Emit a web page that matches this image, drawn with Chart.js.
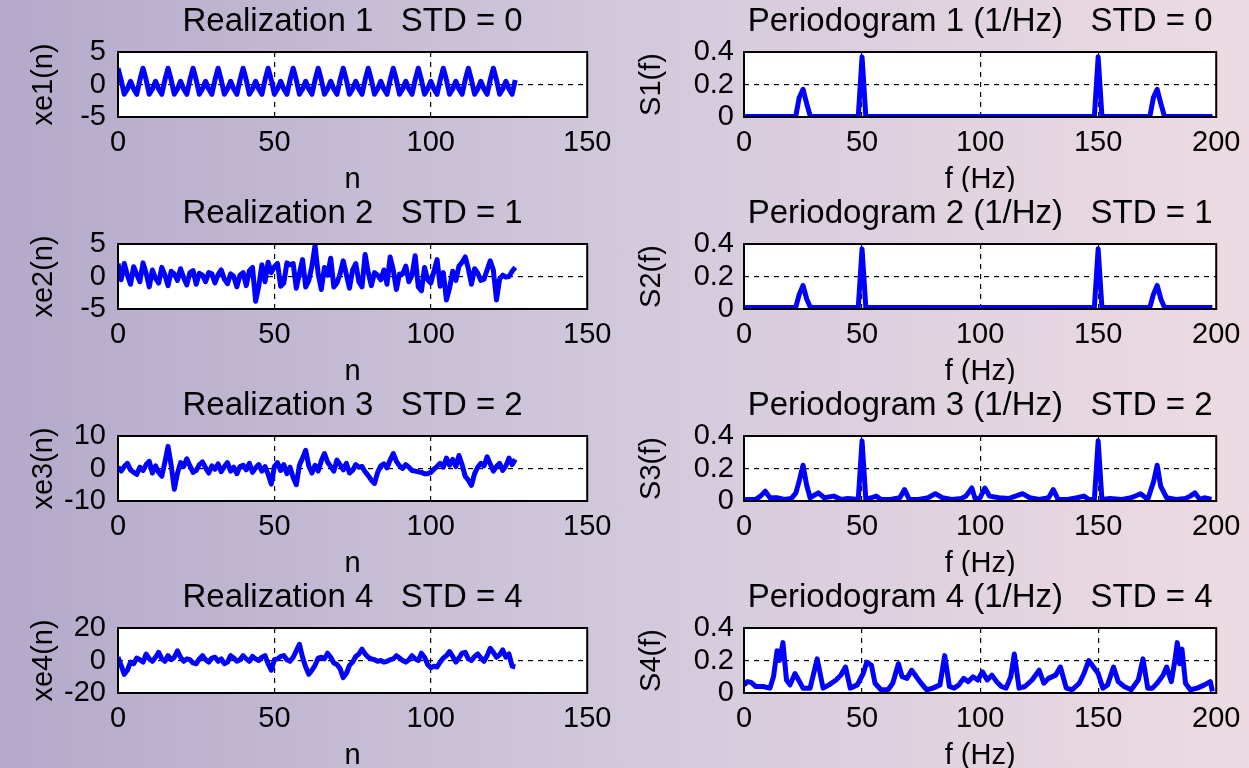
<!DOCTYPE html>
<html>
<head>
<meta charset="utf-8">
<script src="https://cdn.jsdelivr.net/npm/chart.js@4.4.0/dist/chart.umd.min.js"></script>
<style>
  html, body { margin: 0; padding: 0; }
  body {
    width: 1249px; height: 768px; overflow: hidden; position: relative;
    background: linear-gradient(to right, #b4a9ca 0%, #d3c9dc 50%, #ecdbe2 100%);
  }
  .cell { position: absolute; }
</style>
</head>
<body>
<div class="cell" style="left:0;top:0;width:620px;height:192px"><canvas id="r1"></canvas></div>
<div class="cell" style="left:620px;top:0;width:629px;height:192px"><canvas id="p1"></canvas></div>
<div class="cell" style="left:0;top:192px;width:620px;height:192px"><canvas id="r2"></canvas></div>
<div class="cell" style="left:620px;top:192px;width:629px;height:192px"><canvas id="p2"></canvas></div>
<div class="cell" style="left:0;top:384px;width:620px;height:192px"><canvas id="r3"></canvas></div>
<div class="cell" style="left:620px;top:384px;width:629px;height:192px"><canvas id="p3"></canvas></div>
<div class="cell" style="left:0;top:576px;width:620px;height:192px"><canvas id="r4"></canvas></div>
<div class="cell" style="left:620px;top:576px;width:629px;height:192px"><canvas id="p4"></canvas></div>
<script>
// realizations xe1..xe4, sample index n = 0..127
const xe1 = [
  2.5, 0.7, -1.5, -0.7, 0.5, -0.7, -1.5, 0.7,
  2.5, 0.7, -1.5, -0.7, 0.5, -0.7, -1.5, 0.7,
  2.5, 0.7, -1.5, -0.7, 0.5, -0.7, -1.5, 0.7,
  2.5, 0.7, -1.5, -0.7, 0.5, -0.7, -1.5, 0.7,
  2.5, 0.7, -1.5, -0.7, 0.5, -0.7, -1.5, 0.7,
  2.5, 0.7, -1.5, -0.7, 0.5, -0.7, -1.5, 0.7,
  2.5, 0.7, -1.5, -0.7, 0.5, -0.7, -1.5, 0.7,
  2.5, 0.7, -1.5, -0.7, 0.5, -0.7, -1.5, 0.7,
  2.5, 0.7, -1.5, -0.7, 0.5, -0.7, -1.5, 0.7,
  2.5, 0.7, -1.5, -0.7, 0.5, -0.7, -1.5, 0.7,
  2.5, 0.7, -1.5, -0.7, 0.5, -0.7, -1.5, 0.7,
  2.5, 0.7, -1.5, -0.7, 0.5, -0.7, -1.5, 0.7,
  2.5, 0.7, -1.5, -0.7, 0.5, -0.7, -1.5, 0.7,
  2.5, 0.7, -1.5, -0.7, 0.5, -0.7, -1.5, 0.7,
  2.5, 0.7, -1.5, -0.7, 0.5, -0.7, -1.5, 0.7,
  2.5, 0.7, -1.5, -0.7, 0.5, -0.7, -1.5, 0.7
];
const xe2 = [
  2.0, -0.5, 2.0, 0.2, -1.2, 1.5, 0.3, -0.8, 2.1, 0.5,
  -1.6, 1.0, -0.3, -1.0, 1.4, 0.2, -1.4, 0.8, 0.4, -0.6,
  1.2, -0.2, -1.3, 0.6, 0.9, -1.2, 0.5, 0.2, -0.8, 0.6,
  0.4, -1.0, 0.3, 1.0, -0.4, -1.1, 0.4, 0.0, -1.6, 0.2,
  0.6, -1.4, 0.9, 1.4, -3.8, -1.5, 1.8, -0.8, 2.2, 0.6,
  1.5, 2.0, -1.5, -1.0, 2.1, 1.8, 2.0, -1.8, 0.5, 2.6,
  -1.6, -0.6, 1.6, 4.8, 0.4, -2.0, 1.4, 0.2, 2.8, -1.6,
  -1.0, 0.4, 2.4, 0.3, -1.8, 1.0, 2.0, -0.8, -1.6, 3.4,
  0.6, -1.4, 0.6, 0.2, -0.5, 1.0, -1.2, 3.0, 1.0, -2.0,
  0.4, 0.4, 1.6, -0.8, 0.2, 3.2, -1.6, -2.2, 1.4, -0.5,
  -1.0, 0.8, 2.6, -1.5, 0.6, -3.6, -1.8, 0.8, -0.6, 1.6,
  2.2, 3.0, 1.2, -1.2, 1.2, 0.5, -0.6, -0.4, 1.0, 2.4,
  1.0, -3.6, -0.4, 0.2, -0.1, 0.0, 0.8, 1.4
];
const xe3 = [
  0.5, -0.8, 0.6, 1.6, -0.4, -1.2, -1.8, 0.4, -0.6, 1.2,
  2.2, -1.4, 0.8, -1.2, -2.4, 2.0, 6.8, 1.0, -6.4, -1.5,
  1.8, 0.6, 3.0, 0.8, -1.2, -0.6, 1.2, 2.0, 0.2, -1.4,
  0.8, -0.2, 1.4, -1.0, 0.6, 1.8, -0.8, 0.4, -1.6, 0.6,
  1.0, -0.4, 1.6, -1.2, 0.2, 1.2, -0.8, 0.6, -1.8, -4.8,
  0.6, 1.8, -0.6, 1.2, -1.6, 0.4, -2.8, -5.0, 1.0, 3.2,
  5.6, 0.8, -1.4, 1.0, -0.8, 2.4, 4.6, 2.0, 0.6, -0.8,
  2.6, 1.2, -0.4, 1.6, -1.4, -0.6, 1.2, 0.4, 0.6, -1.0,
  -2.2, -3.6, -4.6, -1.2, 0.8, 1.4, 0.2, 2.6, 4.6, 2.2,
  0.8, 0.0, 1.2, 0.4, -0.6, -0.8, -1.0, -1.2, -1.6, -1.6,
  -1.2, -0.2, 0.6, 1.6, 0.4, 3.2, 1.0, 2.8, 0.6, 4.0,
  1.2, -2.4, -3.6, -5.2, -1.6, 0.4, 1.6, 0.8, 3.6, 1.4,
  -0.8, 0.6, 1.6, -0.6, 0.8, 3.2, 1.2, 2.8
];
const xe4 = [
  2.0, -3.0, -8.5, -6.0, -1.0, -2.0, 1.5, 0.5, -1.0, 4.0,
  1.0, -0.5, 2.0, 5.0, 1.0, -0.5, 3.0, 0.5, 2.0, 6.0,
  2.0, -0.5, 1.0, 0.5, -1.5, -2.0, 1.0, 3.0, 0.5, -1.0,
  1.5, 2.0, -0.5, 1.0, -2.0, -1.0, 3.0, 1.5, -0.5, 0.5,
  3.0, 1.0, -0.5, 2.5, 1.0, 0.0, 2.0, 3.0, -2.0, -6.0,
  0.5, 1.0, 2.5, 3.0, 0.5, -0.5, 2.0, 6.0, 10.0, 2.0,
  -4.0, -8.5, -6.0, -3.0, 1.5, 2.0, 1.0, 4.5, 2.0, -1.5,
  -2.5, -5.0, -10.5, -8.0, -3.0, -1.0, 2.5, 4.0, 7.0, 4.0,
  2.0, 1.0, 0.5, -0.5, 0.0, -1.0, -0.5, 0.5, 1.0, 3.0,
  1.5, 0.0, -1.0, 0.5, 3.0, 1.0, 0.0, 4.5, 2.0, -2.5,
  -4.5, -3.5, -4.0, -1.0, 1.5, 3.0, 5.5, 2.5, -1.0, 1.5,
  4.5, 5.0, 1.0, 0.0, 2.5, 4.0, 1.5, -0.5, 3.0, 7.5,
  5.0, 2.0, 3.5, 6.5, 2.0, 4.0, -3.5, -4.0
];

// periodograms: frequency (Hz) and S(f) (1/Hz)
const f1 = [0, 21.9, 23.4, 25, 26.6, 28.1, 48.4, 50, 51.6, 148.4, 150, 151.6, 171.9, 173.4, 175, 176.6, 178.1, 198.4];
const s1 = [0.003, 0.003, 0.12, 0.17, 0.08, 0.003, 0.003, 0.37, 0.003, 0.003, 0.37, 0.003, 0.003, 0.12, 0.17, 0.08, 0.003, 0.003];
const f2 = [0, 21.9, 23.4, 25, 26.6, 28.1, 48.4, 50, 51.6, 148.4, 150, 151.6, 171.9, 173.4, 175, 176.6, 178.1, 198.4];
const s2 = [0.01, 0.01, 0.09, 0.145, 0.06, 0.01, 0.01, 0.37, 0.01, 0.01, 0.37, 0.01, 0.01, 0.09, 0.145, 0.06, 0.01, 0.01];
const f3 = [
  0, 5, 7, 9, 11, 14, 17, 20, 22, 23.5,
  25, 26.5, 28, 31.5, 34, 38, 41, 44, 48.4, 50,
  51.6, 54, 56, 58, 62, 66, 68, 70, 74, 78,
  81, 84, 88, 92, 94, 96.5, 98, 100, 102, 104,
  108, 112, 115, 118, 121, 125, 129, 131, 133, 137,
  141, 144, 146, 148.4, 150, 151.6, 155, 160, 164, 168,
  171, 173.5, 175, 176.5, 179, 183, 187, 189, 191, 193,
  195, 198
];
const s3 = [
  0.01, 0.01, 0.03, 0.06, 0.02, 0.02, 0.01, 0.015, 0.05, 0.13,
  0.22, 0.1, 0.02, 0.05, 0.02, 0.03, 0.01, 0.015, 0.01, 0.37,
  0.01, 0.02, 0.03, 0.01, 0.01, 0.02, 0.07, 0.01, 0.01, 0.02,
  0.045, 0.02, 0.01, 0.015, 0.03, 0.08, 0.01, 0.02, 0.08, 0.03,
  0.02, 0.015, 0.03, 0.045, 0.02, 0.01, 0.02, 0.07, 0.01, 0.01,
  0.02, 0.03, 0.01, 0.01, 0.37, 0.01, 0.015, 0.01, 0.02, 0.045,
  0.01, 0.12, 0.22, 0.09, 0.02, 0.01, 0.015, 0.03, 0.05, 0.01,
  0.02, 0.01
];
const f4 = [
  0, 1.5, 3, 5, 8, 11, 12.5, 14, 15, 16.5,
  18, 19.5, 21.6, 23.5, 25, 28, 31, 33.5, 36, 39,
  41, 43, 45, 48, 50.5, 52, 54, 55.5, 58, 61,
  63, 65.4, 67, 69, 71, 73, 75, 77.4, 80, 83,
  85, 87, 89, 91, 93, 95, 97, 99, 101, 103,
  105, 107, 109, 111, 113, 114.5, 116.5, 119, 122, 125,
  127, 129, 132, 134, 136.5, 139, 142, 144, 146, 148,
  150, 152, 154, 156.5, 158.5, 161, 164, 167, 169, 171,
  173, 175, 177.5, 179, 181, 182.5, 183.5, 184.5, 185.5, 187,
  189, 192, 195, 197.5, 198.4
];
const s4 = [
  0.05, 0.07, 0.065, 0.04, 0.04, 0.03, 0.1, 0.26, 0.2, 0.31,
  0.08, 0.05, 0.12, 0.07, 0.03, 0.03, 0.21, 0.03, 0.05, 0.08,
  0.11, 0.16, 0.03, 0.05, 0.12, 0.19, 0.17, 0.06, 0.02, 0.02,
  0.06, 0.18, 0.1, 0.09, 0.14, 0.1, 0.06, 0.02, 0.03, 0.05,
  0.23, 0.04, 0.03, 0.05, 0.09, 0.07, 0.1, 0.08, 0.13, 0.08,
  0.11, 0.07, 0.04, 0.03, 0.1, 0.24, 0.03, 0.04, 0.08, 0.14,
  0.06, 0.09, 0.11, 0.16, 0.03, 0.02, 0.06, 0.12, 0.2, 0.16,
  0.12, 0.03, 0.05, 0.16, 0.07, 0.04, 0.02, 0.08, 0.21, 0.03,
  0.03, 0.06, 0.11, 0.16, 0.07, 0.2, 0.31, 0.18, 0.27, 0.06,
  0.02, 0.03, 0.05, 0.07, 0.01
];

Chart.defaults.font.family = "'Liberation Sans', Arial, sans-serif";
Chart.defaults.color = '#000';
Chart.defaults.animation = false;

// white axes background + black box like matlab
const framePlugin = {
  id: 'frame',
  beforeDraw(chart) {
    const { ctx, chartArea: a } = chart;
    ctx.save();
    ctx.fillStyle = '#fff';
    ctx.fillRect(a.left, a.top, a.width, a.height);
    ctx.restore();
  },
  afterDraw(chart) {
    const { ctx, chartArea: a } = chart;
    ctx.save();
    ctx.strokeStyle = '#000';
    ctx.lineWidth = 2;
    ctx.strokeRect(a.left, a.top, a.width, a.height);
    ctx.restore();
  }
};

function makePlot(id, xs, ys, cfg) {
  const pts = ys.map((v, i) => ({ x: xs ? xs[i] : i, y: v }));
  new Chart(document.getElementById(id), {
    type: 'line',
    data: {
      datasets: [{
        data: pts,
        borderColor: '#0000ff',
        borderWidth: 5,
        pointRadius: 0,
        tension: 0,
        borderJoinStyle: 'round'
      }]
    },
    plugins: [framePlugin],
    options: {
      responsive: true,
      maintainAspectRatio: false,
      layout: { padding: { left: 0, right: cfg.padRight, top: 0, bottom: 0 } },
      plugins: {
        legend: { display: false },
        tooltip: { enabled: false },
        title: {
          display: true,
          text: cfg.title,
          fullSize: false,
          font: { size: 33, weight: 'normal', lineHeight: 1.2 },
          padding: { top: 2.2, bottom: 10.2 }
        }
      },
      scales: {
        x: {
          type: 'linear',
          min: 0,
          max: cfg.xMax,
          afterFit: s => { s.height = 75; },
          ticks: { stepSize: 50, font: { size: 29 }, padding: 8.6, maxRotation: 0, autoSkip: false },
          grid: {
            drawTicks: false,
            lineWidth: 1.2,
            color: c => cfg.xGrid.includes(c.tick.value) ? '#000' : 'rgba(0,0,0,0)'
          },
          border: { display: false, dash: [5, 5] },
          title: { display: true, text: cfg.xTitle, font: { size: 29, lineHeight: 0.83 }, padding: { top: 0, bottom: 0 } }
        },
        y: {
          min: cfg.yMin,
          max: cfg.yMax,
          afterFit: s => { s.width = cfg.leftW; },
          ticks: { stepSize: cfg.yStep, font: { size: 29, lineHeight: 1 }, padding: cfg.tickPad, autoSkip: false },
          grid: {
            drawTicks: false,
            lineWidth: 1.2,
            color: c => c.tick.value === cfg.yGrid ? '#000' : 'rgba(0,0,0,0)'
          },
          border: { display: false, dash: [5, 5] },
          title: { display: true, text: cfg.yTitle, font: { size: 29, lineHeight: 0.83 }, padding: { top: cfg.yTitlePad, bottom: 0 } }
        }
      }
    }
  });
}

const leftCfg = (t, yt, lim) => ({
  title: t, yTitle: yt, xTitle: 'n', xMax: 150, xGrid: [50, 100],
  yMin: -lim, yMax: lim, yStep: lim, yGrid: 0,
  leftW: 118, padRight: 30, tickPad: 12, yTitlePad: 32
});
const rightCfg = (t, yt) => ({
  title: t, yTitle: yt, xTitle: 'f (Hz)', xMax: 200, xGrid: [50, 100, 150],
  yMin: 0, yMax: 0.4, yStep: 0.2, yGrid: 0.2,
  leftW: 124, padRight: 31, tickPad: 10, yTitlePad: 20
});

makePlot('r1', null, xe1, leftCfg('Realization 1   STD = 0', 'xe1(n)', 5));
makePlot('r2', null, xe2, leftCfg('Realization 2   STD = 1', 'xe2(n)', 5));
makePlot('r3', null, xe3, leftCfg('Realization 3   STD = 2', 'xe3(n)', 10));
makePlot('r4', null, xe4, leftCfg('Realization 4   STD = 4', 'xe4(n)', 20));
makePlot('p1', f1, s1, rightCfg('Periodogram 1 (1/Hz)   STD = 0', 'S1(f)'));
makePlot('p2', f2, s2, rightCfg('Periodogram 2 (1/Hz)   STD = 1', 'S2(f)'));
makePlot('p3', f3, s3, rightCfg('Periodogram 3 (1/Hz)   STD = 2', 'S3(f)'));
makePlot('p4', f4, s4, rightCfg('Periodogram 4 (1/Hz)   STD = 4', 'S4(f)'));
</script>
</body>
</html>
